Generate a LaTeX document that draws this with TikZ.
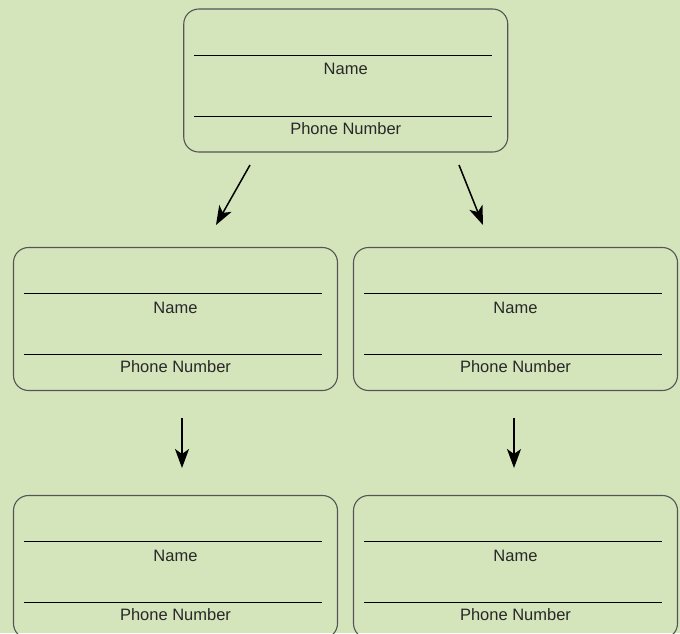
\documentclass[tikz,border=0pt]{standalone}
\usepackage{fontspec}
\setmainfont{Liberation Sans}
\usetikzlibrary{arrows.meta}
\definecolor{cardbg}{RGB}{212,229,188}
\definecolor{cardline}{RGB}{85,85,85}
\definecolor{cardtext}{RGB}{40,40,40}

\begin{document}
\begin{tikzpicture}[x=1pt, y=-1pt,
    card/.style = {draw=cardline, line width=1.1pt, rounded corners=15pt,
                   minimum width=324pt, minimum height=143pt, inner sep=0pt},
    field/.style = {font=\fontsize{16.5}{18}\selectfont, text=cardtext, inner sep=0pt},
    rule/.style = {line width=1pt, black},
    link/.style = {line width=1.5pt, -{Stealth[length=19pt, width=14pt, inset=5pt]}}]
  \fill[cardbg] (0,0) rectangle (680,633);
  \useasboundingbox (0,0) rectangle (680,633);
  \clip (0,0) rectangle (680,633);

  % the five cards
  \node[card] (top) at (345.75,80.5) {};
  \node[card] (ml) at (175.5,319) {};
  \node[card] (mr) at (515.5,319) {};
  \node[card] (bl) at (175.5,567) {};
  \node[card] (br) at (515.5,567) {};

  \foreach \c in {top,ml,mr,bl,br} {
    \draw[rule] ([xshift=11pt, yshift=25.5pt]\c.west) -- ([xshift=-16pt, yshift=25.5pt]\c.east);
    \draw[rule] ([xshift=11pt, yshift=-35.5pt]\c.west) -- ([xshift=-16pt, yshift=-35.5pt]\c.east);
    \node[field] (\c-name) at ([yshift=11.5pt]\c.center) {Name};
    \node[field] (\c-phone) at ([yshift=-48pt]\c.center) {Phone Number};
  }

  % arrow ends
  \coordinate (a1) at (250,165);
  \coordinate (b1) at (216,225);
  \coordinate (a2) at (459,165);
  \coordinate (b2) at (483,225);
  \coordinate (a3) at (182,418);
  \coordinate (b3) at (182,468);
  \coordinate (a4) at (514,418);
  \coordinate (b4) at (514,468);

  \draw[link] (a1) -- (b1);
  \draw[link] (a2) -- (b2);
  \draw[link] (a3) -- (b3);
  \draw[link] (a4) -- (b4);
\end{tikzpicture}
\end{document}
